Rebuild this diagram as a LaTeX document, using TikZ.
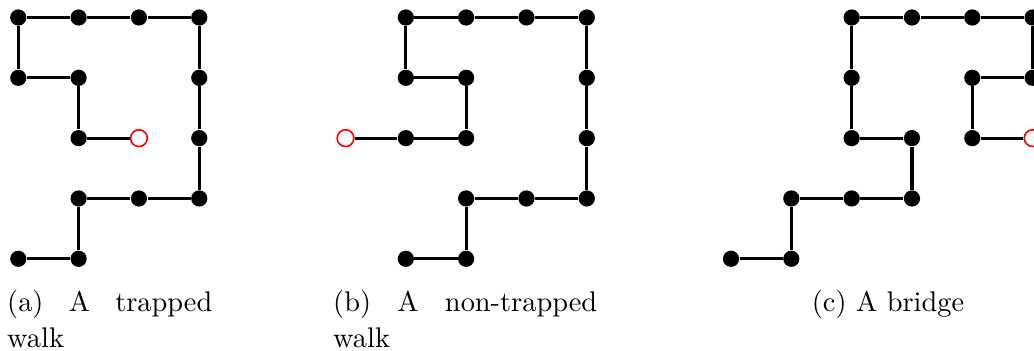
\documentclass[tikz,border=0pt]{standalone}
\begin{document}
\begin{tikzpicture}[x=0.37pt,y=-0.37pt,
  dot/.style={circle,fill=black,inner sep=0pt,minimum size=6pt},
  endpt/.style={circle,draw=red,fill=white,line width=0.6pt,inner sep=0pt,minimum size=6.2pt},
  edge/.style={line width=1.2pt},
  captext/.style={anchor=base west,inner sep=0pt,font=\fontsize{10.5}{12.6}\selectfont}]
\useasboundingbox (0,0) rectangle (1034,351);
% (a) trapped walk
\begin{scope}[shift={(18.3,17.5)},x=22.32pt,y=-22.32pt]
  \node[dot] (a1) at (0,4) {};
  \node[dot] (a2) at (1,4) {};
  \node[dot] (a3) at (1,3) {};
  \node[dot] (a4) at (2,3) {};
  \node[dot] (a5) at (3,3) {};
  \node[dot] (a6) at (3,2) {};
  \node[dot] (a7) at (3,1) {};
  \node[dot] (a8) at (3,0) {};
  \node[dot] (a9) at (2,0) {};
  \node[dot] (a10) at (1,0) {};
  \node[dot] (a11) at (0,0) {};
  \node[dot] (a12) at (0,1) {};
  \node[dot] (a13) at (1,1) {};
  \node[dot] (a14) at (1,2) {};
  \node[endpt] (a15) at (2,2) {};
  \draw[edge] (a1)--(a2) (a2)--(a3) (a3)--(a4) (a4)--(a5) (a5)--(a6) (a6)--(a7) (a7)--(a8)
    (a8)--(a9) (a9)--(a10) (a10)--(a11) (a11)--(a12) (a12)--(a13) (a13)--(a14) (a14)--(a15);
\end{scope}
% (b) non-trapped walk
\begin{scope}[shift={(345.5,17.5)},x=22.32pt,y=-22.32pt]
  \node[dot] (b1) at (1,4) {};
  \node[dot] (b2) at (2,4) {};
  \node[dot] (b3) at (2,3) {};
  \node[dot] (b4) at (3,3) {};
  \node[dot] (b5) at (4,3) {};
  \node[dot] (b6) at (4,2) {};
  \node[dot] (b7) at (4,1) {};
  \node[dot] (b8) at (4,0) {};
  \node[dot] (b9) at (3,0) {};
  \node[dot] (b10) at (2,0) {};
  \node[dot] (b11) at (1,0) {};
  \node[dot] (b12) at (1,1) {};
  \node[dot] (b13) at (2,1) {};
  \node[dot] (b14) at (2,2) {};
  \node[dot] (b15) at (1,2) {};
  \node[endpt] (b16) at (0,2) {};
  \draw[edge] (b1)--(b2) (b2)--(b3) (b3)--(b4) (b4)--(b5) (b5)--(b6) (b6)--(b7) (b7)--(b8)
    (b8)--(b9) (b9)--(b10) (b10)--(b11) (b11)--(b12) (b12)--(b13) (b13)--(b14) (b14)--(b15) (b15)--(b16);
\end{scope}
% (c) bridge
\begin{scope}[shift={(731,17.5)},x=22.32pt,y=-22.32pt]
  \node[dot] (c1) at (0,4) {};
  \node[dot] (c2) at (1,4) {};
  \node[dot] (c3) at (1,3) {};
  \node[dot] (c4) at (2,3) {};
  \node[dot] (c5) at (3,3) {};
  \node[dot] (c6) at (3,2) {};
  \node[dot] (c7) at (2,2) {};
  \node[dot] (c8) at (2,1) {};
  \node[dot] (c9) at (2,0) {};
  \node[dot] (c10) at (3,0) {};
  \node[dot] (c11) at (4,0) {};
  \node[dot] (c12) at (5,0) {};
  \node[dot] (c13) at (5,1) {};
  \node[dot] (c14) at (4,1) {};
  \node[dot] (c15) at (4,2) {};
  \node[endpt] (c16) at (5,2) {};
  \draw[edge] (c1)--(c2) (c2)--(c3) (c3)--(c4) (c4)--(c5) (c5)--(c6) (c6)--(c7) (c7)--(c8)
    (c8)--(c9) (c9)--(c10) (c10)--(c11) (c11)--(c12) (c12)--(c13) (c13)--(c14) (c14)--(c15) (c15)--(c16);
\end{scope}
% captions
\node[captext] (capa1) at (6.7,311.7) {\makebox[75.9pt][s]{(a) A trapped}};
\node[captext] (capa2) at (6.7,347.7) {walk};
\node[captext] (capb1) at (332.7,311.7) {\makebox[97.7pt][s]{(b) A non-trapped}};
\node[captext] (capb2) at (332.7,347.7) {walk};
\node[captext,anchor=base] (capc) at (888,311.7) {(c) A bridge};
\end{tikzpicture}
\end{document}
